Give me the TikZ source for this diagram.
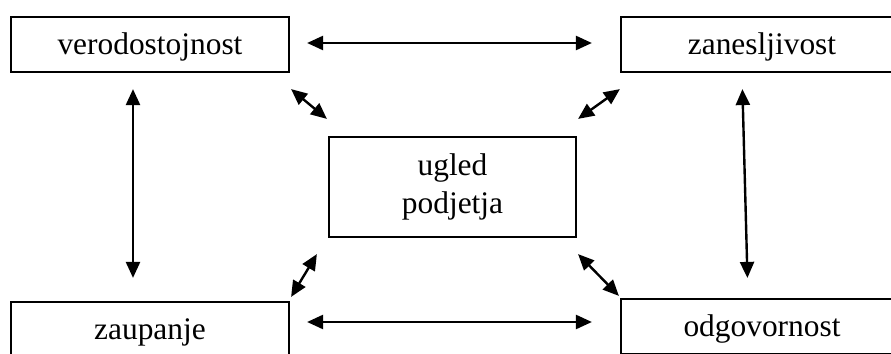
\documentclass[tikz,border=0pt]{standalone}
\usepackage{fontspec}
\setmainfont{Liberation Serif}
\usepackage{tikz}
\usetikzlibrary{positioning,calc,arrows.meta}

\begin{document}
\begin{tikzpicture}[x=0.5pt,y=0.5pt,
    box/.style={draw,line width=1.1pt,inner sep=0pt,text height=19pt,text depth=8.5pt,
      font=\fontsize{15.7}{19}\selectfont},
    midbox/.style={draw,line width=1.1pt,inner sep=0pt,minimum height=50pt,align=center,
      font=\fontsize{15.7}{19}\selectfont},
    link/.style={{Triangle[length=8pt,width=7pt]}-{Triangle[length=8pt,width=7pt]},
      line width=1.2pt}]
        \clip (0,0) rectangle (891,354);
        % the five boxes
        \node[box,minimum width=139pt] (ver) at (150,309.5) {verodostojnost};
        \node[box,minimum width=141pt] (zan) at (762,309.5) {zanesljivost};
        \node[box,minimum width=139pt] (zau) at (150,24.5) {zaupanje};
        \node[box,minimum width=141pt] (odg) at (762,27.5) {odgovornost};
        \node[midbox,minimum width=123.5pt] (ugl) at (452.5,167) {ugled\\podjetja};
        % outer ring
        \draw[link,shorten <=8.5pt,shorten >=14pt] ($(ver.east)+(0,1.5)$) -- ($(zan.west)+(0,1.5)$);
        \draw[link,shorten <=8.5pt,shorten >=14pt] ($(zau.east)+(0,7.5)$) -- ($(odg.west)+(0,4.5)$);
        \draw[link,shorten <=8pt,shorten >=11.5pt] ($(ver.south)+(-17,0)$) -- ($(zau.north)+(-17,0)$);
        \draw[link,shorten <=8pt,shorten >=10pt] ($(zan.south)+(-20,0)$) -- ($(odg.north)+(-14,0)$);
        % links to the middle
        \draw[link] ($(ver.south east)+(1,-16)$) -- ($(ugl.north west)+(-1,17)$);
        \draw[link] ($(ugl.north east)+(1,17)$) -- ($(zan.south west)+(0,-16)$);
        \draw[link] ($(zau.north east)+(1,4)$) -- ($(ugl.south west)+(-11,-16)$);
        \draw[link] ($(ugl.south east)+(1,-16)$) -- ($(odg.north west)+(-1,2)$);
      \end{tikzpicture}
\end{document}
